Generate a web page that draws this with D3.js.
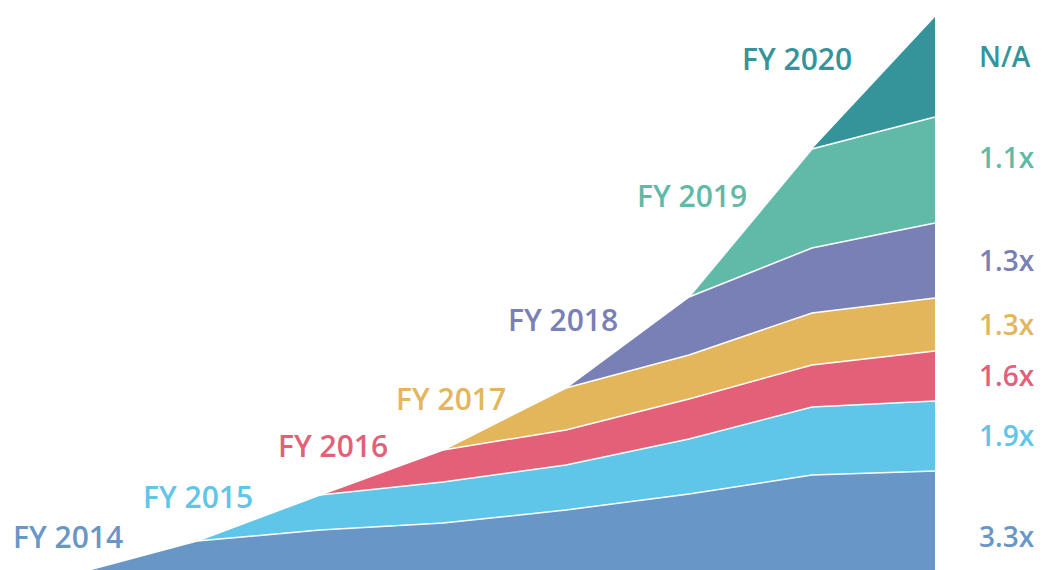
<!DOCTYPE html>
<html>
<head>
<meta charset="utf-8">
<script src="https://cdn.jsdelivr.net/npm/d3@7"></script>
<style>
  body { margin: 0; background: #fff; }
  text { font-family: "Open Sans", "Noto Sans", sans-serif; font-weight: 600; }
</style>
</head>
<body>
<div id="chart"></div>
<script>
// period end points (x) and cohort layers (stacked)
var periods = ["2013", "2014", "2015", "2016", "2017", "2018", "2019", "2020"];
var cohorts = ["FY 2014", "FY 2015", "FY 2016", "FY 2017", "FY 2018", "FY 2019", "FY 2020"];

var fy2014 = [0, 33, 44, 51, 64, 80, 99, 103];
var fy2015 = [null, 0, 35, 41, 45, 55, 68, 70];
var fy2016 = [null, null, 0, 32, 35, 40, 42, 50];
var fy2017 = [null, null, null, 0, 42, 44, 52, 53];
var fy2018 = [null, null, null, null, 0, 58, 65, 75];
var fy2019 = [null, null, null, null, null, 0, 99, 106];
var fy2020 = [null, null, null, null, null, null, 0, 100];

var multiples = ["3.3x", "1.9x", "1.6x", "1.3x", "1.3x", "1.1x", "N/A"];

var series = [fy2014, fy2015, fy2016, fy2017, fy2018, fy2019, fy2020];
var colors = ["#6897c7", "#5fc5e9", "#e45f78", "#e4b65c", "#7880b6", "#60baa7", "#34949a"];

var width = 1042, height = 570;

var svg = d3.select("#chart").append("svg")
  .attr("width", width).attr("height", height);

var x = d3.scalePoint().domain(periods).range([74, 935]);
var y = d3.scaleLinear().domain([0, 557]).range([574, 17]);

var rows = periods.map(function(p, i) {
  var r = { period: p };
  cohorts.forEach(function(c, k) { r[c] = series[k][i] || 0; });
  return r;
});

var stacked = d3.stack().keys(cohorts)(rows);

var area = d3.area()
  .x(function(d) { return x(d.data.period); })
  .y0(function(d) { return y(d[0]); })
  .y1(function(d) { return y(d[1]); });

var topLine = d3.line()
  .x(function(d) { return x(d.data.period); })
  .y(function(d) { return y(d[1]); });

stacked.forEach(function(layer, k) {
  var def = function(d, i) { return series[k][i] !== null; };
  svg.append("path")
    .attr("d", area.defined(def)(layer))
    .attr("fill", colors[k]);
});

// thin white separators along each layer's top edge
stacked.forEach(function(layer, k) {
  if (k == stacked.length - 1) return;
  var def = function(d, i) { return series[k][i] !== null; };
  svg.append("path")
    .attr("d", topLine.defined(def)(layer))
    .attr("fill", "none")
    .attr("stroke", "#fff")
    .attr("stroke-width", 1.5);
});

// cohort labels, placed up-left of each layer's start
var labelPos = [[13, 548], [143, 508], [278, 457], [396, 410], [508, 331], [637, 207], [742, 70]];
cohorts.forEach(function(c, k) {
  svg.append("text")
    .attr("x", labelPos[k][0]).attr("y", labelPos[k][1])
    .attr("fill", colors[k])
    .style("font-size", "30px")
    .text(c);
});

// growth multiples at the right edge
var nudge = [14, 0, 0, 0, 0, -12, -10];
var last = periods.length - 1;
stacked.forEach(function(layer, k) {
  var d = layer[last];
  var cy = (y(d[0]) + y(d[1])) / 2 + nudge[k];
  svg.append("text")
    .attr("x", 979).attr("y", cy)
    .attr("dy", "0.36em")
    .attr("fill", colors[k])
    .style("font-size", "28px")
    .text(multiples[k]);
});
</script>
</body>
</html>
